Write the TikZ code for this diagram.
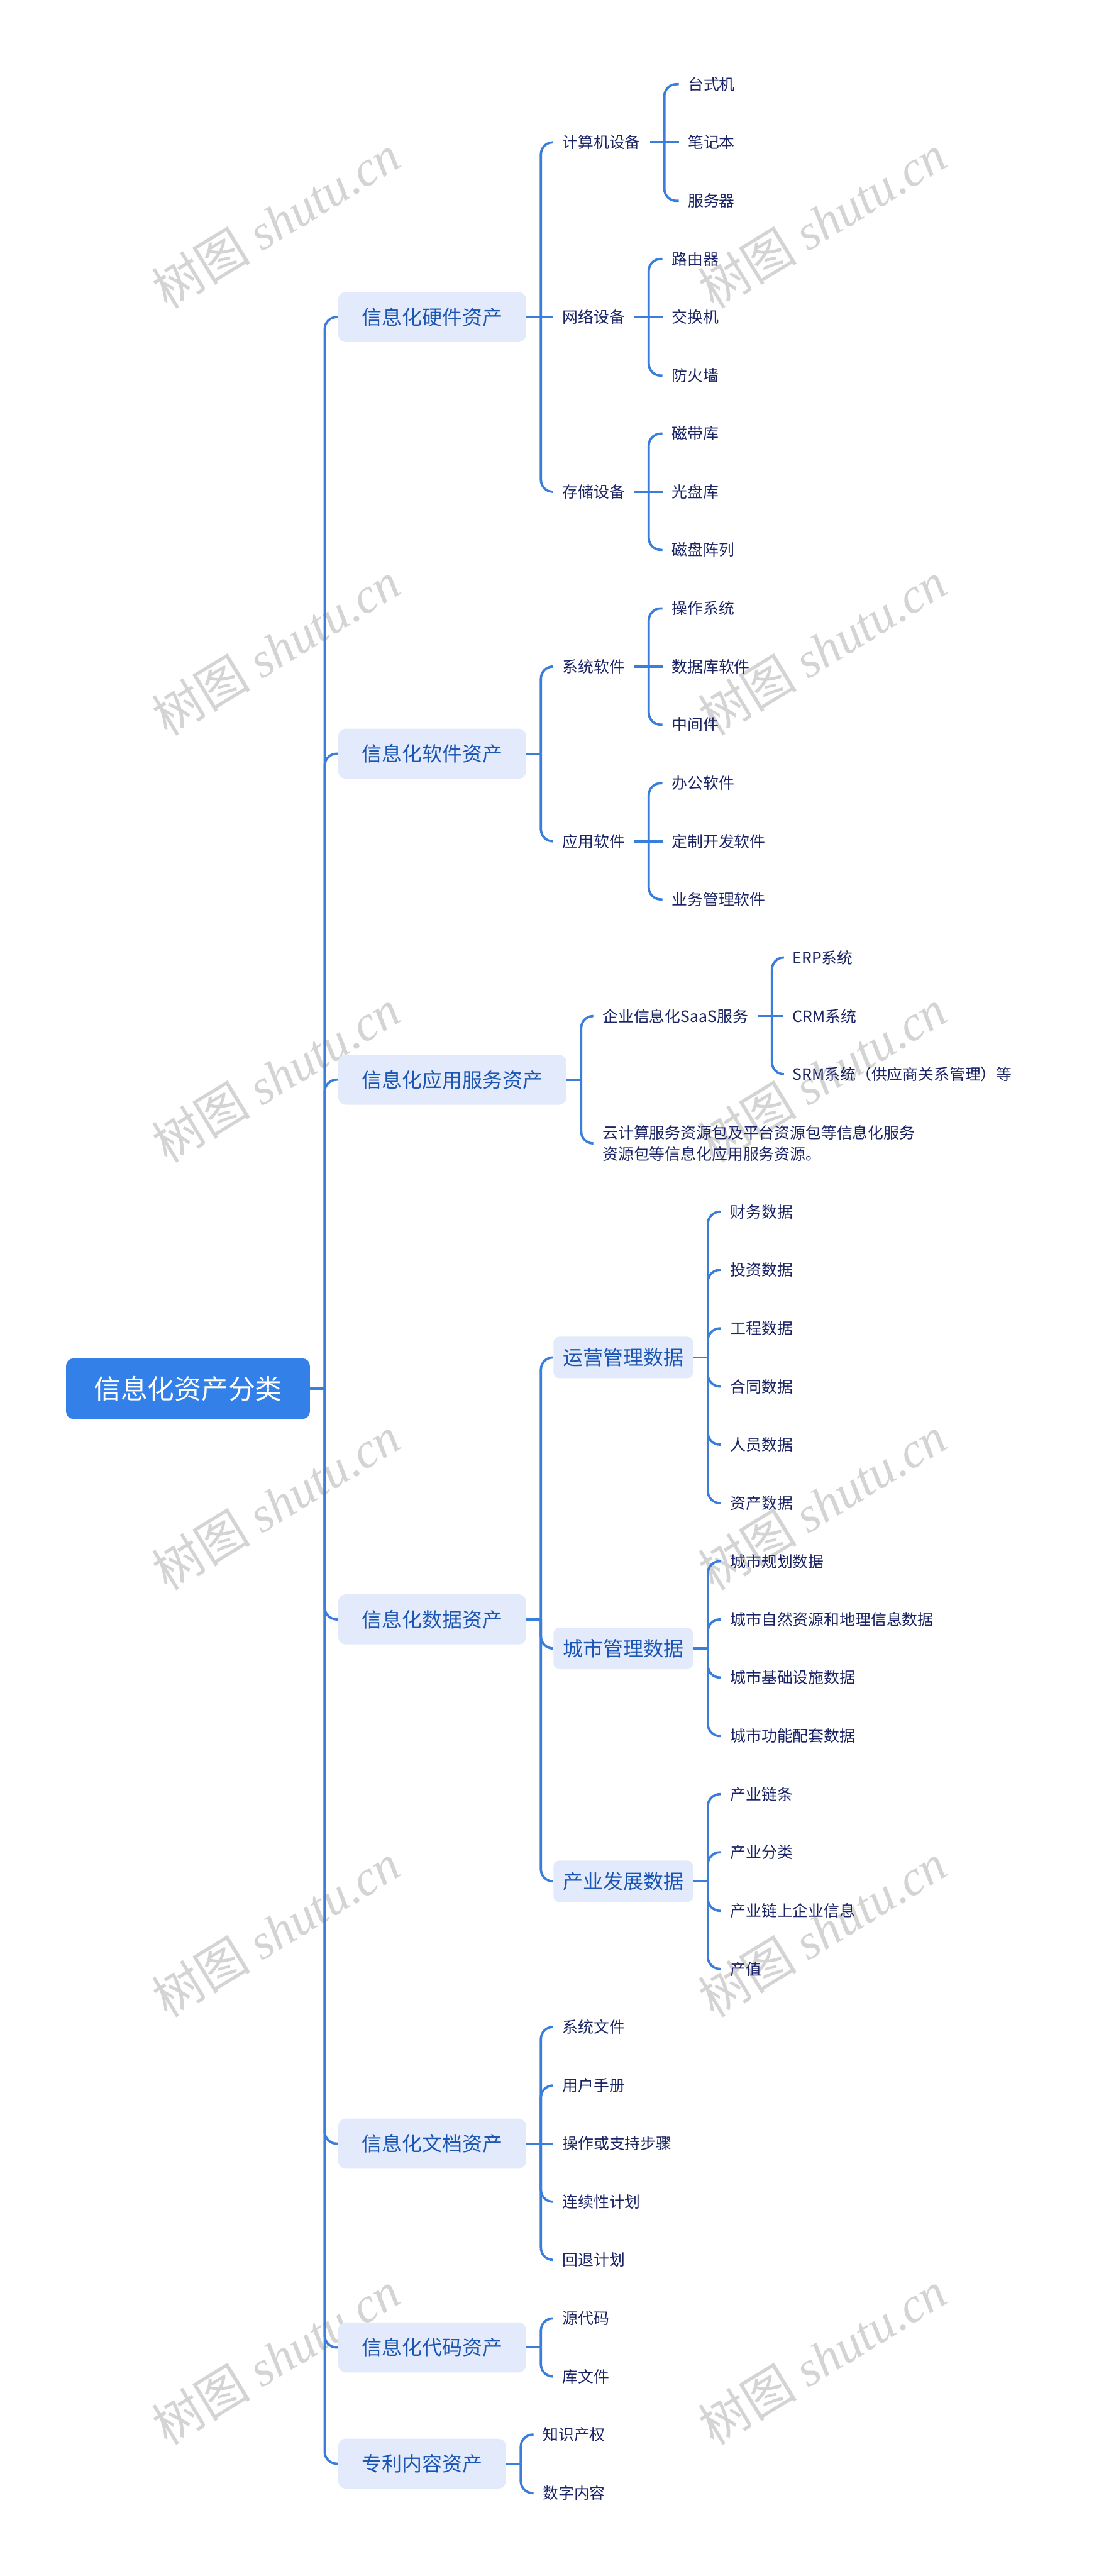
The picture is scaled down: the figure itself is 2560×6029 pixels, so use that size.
\documentclass[tikz,border=0pt]{standalone}
\usepackage{fontspec}
\setmainfont{Noto Sans CJK SC}
\newfontfamily\wmlatin{Liberation Serif}
\usetikzlibrary{calc}
\definecolor{lineblue}{HTML}{3A7EDB}
\definecolor{rootblue}{HTML}{3280E8}
\definecolor{boxfill}{HTML}{E2EAFB}
\definecolor{boxtext}{HTML}{1B56B4}
\definecolor{leaftext}{HTML}{1B2466}
\definecolor{wmgray}{HTML}{D4D4D4}
\tikzset{
  conn/.style={draw=lineblue, line width=1.56pt},
  rc/.style={rounded corners=0.28cm},
  rootbox/.style={fill=rootblue, rounded corners=5pt, text=white, font=\fontsize{17.9pt}{20pt}\selectfont, minimum height=1.42cm, inner xsep=0.65cm, inner ysep=0pt, anchor=west},
  lonebox/.style={fill=boxfill, rounded corners=5pt, text=boxtext, font=\fontsize{13.4pt}{16pt}\selectfont, minimum height=1.17cm, inner xsep=0.55cm, inner ysep=0pt, anchor=west},
  ltwobox/.style={fill=boxfill, rounded corners=4pt, text=boxtext, font=\fontsize{13.4pt}{16pt}\selectfont, minimum height=0.97cm, inner xsep=0.22cm, inner ysep=0pt, anchor=west},
  leaf/.style={text=leaftext, font=\fontsize{10.4pt}{14.2pt}\selectfont, inner xsep=0.21cm, inner ysep=0.1cm, anchor=west},
  wm/.style={text=wmgray, rotate=31.4, font=\fontsize{33pt}{36pt}\selectfont, inner sep=0pt}
}
\begin{document}
\begin{tikzpicture}[x=0.01cm, y=-0.01cm]
\useasboundingbox (0,0) rectangle (2560,6029);
\fill[white] (0,0) rectangle (2560,6029);

% watermarks
\foreach \wy [count=\i] in {518,1518,2518,3518,4518,5518}{
  \node[wm] (wl\i) at (646,\wy) {树图 {\wmlatin\itshape shutu.cn}};
  \node[wm] (wr\i) at (1925,\wy) {树图 {\wmlatin\itshape shutu.cn}};
}

% root
\node[rootbox] (root) at (154,3250) {信息化资产分类};

% level 1
\node[lonebox] (h) at (791,742) {信息化硬件资产};
\node[lonebox] (s) at (791,1764) {信息化软件资产};
\node[lonebox] (a) at (791,2527) {信息化应用服务资产};
\node[lonebox] (d) at (791,3790) {信息化数据资产};
\node[lonebox] (o) at (791,5017) {信息化文档资产};
\node[lonebox] (c) at (791,5494) {信息化代码资产};
\node[lonebox] (p) at (791,5766) {专利内容资产};

% hardware
\node[leaf] (h1) at (1295,333) {计算机设备};
\node[leaf] (h11) at (1589,197) {台式机};
\node[leaf] (h12) at (1589,333) {笔记本};
\node[leaf] (h13) at (1589,470) {服务器};
\node[leaf] (h2) at (1295,742) {网络设备};
\node[leaf] (h21) at (1551,606) {路由器};
\node[leaf] (h22) at (1551,742) {交换机};
\node[leaf] (h23) at (1551,879) {防火墙};
\node[leaf] (h3) at (1295,1151) {存储设备};
\node[leaf] (h31) at (1551,1015) {磁带库};
\node[leaf] (h32) at (1551,1151) {光盘库};
\node[leaf] (h33) at (1551,1287) {磁盘阵列};

% software
\node[leaf] (s1) at (1295,1560) {系统软件};
\node[leaf] (s11) at (1551,1424) {操作系统};
\node[leaf] (s12) at (1551,1560) {数据库软件};
\node[leaf] (s13) at (1551,1696) {中间件};
\node[leaf] (s2) at (1295,1969) {应用软件};
\node[leaf] (s21) at (1551,1833) {办公软件};
\node[leaf] (s22) at (1551,1969) {定制开发软件};
\node[leaf] (s23) at (1551,2105) {业务管理软件};

% application services
\node[leaf] (a1) at (1389,2378) {企业信息化SaaS服务};
\node[leaf] (a11) at (1834,2241) {ERP系统};
\node[leaf] (a12) at (1834,2378) {CRM系统};
\node[leaf] (a13) at (1834,2514) {SRM系统（供应商关系管理）等};
\node[leaf, align=left] (a2) at (1389,2676) {云计算服务资源包及平台资源包等信息化服务\\资源包等信息化应用服务资源。};

% data
\node[ltwobox] (d1) at (1295,3177) {运营管理数据};
\node[leaf] (d11) at (1688,2836) {财务数据};
\node[leaf] (d12) at (1688,2972) {投资数据};
\node[leaf] (d13) at (1688,3109) {工程数据};
\node[leaf] (d14) at (1688,3245) {合同数据};
\node[leaf] (d15) at (1688,3381) {人员数据};
\node[leaf] (d16) at (1688,3518) {资产数据};
\node[ltwobox] (d2) at (1295,3858) {城市管理数据};
\node[leaf] (d21) at (1688,3654) {城市规划数据};
\node[leaf] (d22) at (1688,3790) {城市自然资源和地理信息数据};
\node[leaf] (d23) at (1688,3926) {城市基础设施数据};
\node[leaf] (d24) at (1688,4063) {城市功能配套数据};
\node[ltwobox] (d3) at (1295,4403) {产业发展数据};
\node[leaf] (d31) at (1688,4199) {产业链条};
\node[leaf] (d32) at (1688,4335) {产业分类};
\node[leaf] (d33) at (1688,4472) {产业链上企业信息};
\node[leaf] (d34) at (1688,4608) {产值};

% documents
\node[leaf] (o1) at (1295,4744) {系统文件};
\node[leaf] (o2) at (1295,4881) {用户手册};
\node[leaf] (o3) at (1295,5017) {操作或支持步骤};
\node[leaf] (o4) at (1295,5153) {连续性计划};
\node[leaf] (o5) at (1295,5289) {回退计划};

% code
\node[leaf] (c1) at (1295,5426) {源代码};
\node[leaf] (c2) at (1295,5562) {库文件};

% patent
\node[leaf] (p1) at (1249,5698) {知识产权};
\node[leaf] (p2) at (1249,5835) {数字内容};

% connectors
\draw[conn] (root.east) -- ++(34,0) coordinate (jr);
\foreach \n in {h,s,a,d,o,c,p} \draw[conn,rc] (jr) |- (\n.west);

\draw[conn] (h.east) -- ++(34,0) coordinate (jh);
\draw[conn,rc] (jh) |- (h1.west);
\draw[conn] (jh) -- (h2.west);
\draw[conn,rc] (jh) |- (h3.west);
\draw[conn] (h1.east) -- ++(34,0) coordinate (jh1);
\draw[conn,rc] (jh1) |- (h11.west);
\draw[conn] (jh1) -- (h12.west);
\draw[conn,rc] (jh1) |- (h13.west);
\draw[conn] (h2.east) -- ++(34,0) coordinate (jh2);
\draw[conn,rc] (jh2) |- (h21.west);
\draw[conn] (jh2) -- (h22.west);
\draw[conn,rc] (jh2) |- (h23.west);
\draw[conn] (h3.east) -- ++(34,0) coordinate (jh3);
\draw[conn,rc] (jh3) |- (h31.west);
\draw[conn] (jh3) -- (h32.west);
\draw[conn,rc] (jh3) |- (h33.west);

\draw[conn] (s.east) -- ++(34,0) coordinate (js);
\draw[conn,rc] (js) |- (s1.west);
\draw[conn,rc] (js) |- (s2.west);
\draw[conn] (s1.east) -- ++(34,0) coordinate (js1);
\draw[conn,rc] (js1) |- (s11.west);
\draw[conn] (js1) -- (s12.west);
\draw[conn,rc] (js1) |- (s13.west);
\draw[conn] (s2.east) -- ++(34,0) coordinate (js2);
\draw[conn,rc] (js2) |- (s21.west);
\draw[conn] (js2) -- (s22.west);
\draw[conn,rc] (js2) |- (s23.west);

\draw[conn] (a.east) -- ++(34,0) coordinate (ja);
\draw[conn,rc] (ja) |- (a1.west);
\draw[conn,rc] (ja) |- (a2.west);
\draw[conn] (a1.east) -- ++(34,0) coordinate (ja1);
\draw[conn,rc] (ja1) |- (a11.west);
\draw[conn] (ja1) -- (a12.west);
\draw[conn,rc] (ja1) |- (a13.west);

\draw[conn] (d.east) -- ++(34,0) coordinate (jd);
\foreach \n in {d1,d2,d3} \draw[conn,rc] (jd) |- (\n.west);
\draw[conn] (d1.east) -- ++(34,0) coordinate (jd1);
\foreach \n in {d11,d12,d13,d14,d15,d16} \draw[conn,rc] (jd1) |- (\n.west);
\draw[conn] (d2.east) -- ++(34,0) coordinate (jd2);
\foreach \n in {d21,d22,d23,d24} \draw[conn,rc] (jd2) |- (\n.west);
\draw[conn] (d3.east) -- ++(34,0) coordinate (jd3);
\foreach \n in {d31,d32,d33,d34} \draw[conn,rc] (jd3) |- (\n.west);

\draw[conn] (o.east) -- ++(34,0) coordinate (jo);
\foreach \n in {o1,o2,o4,o5} \draw[conn,rc] (jo) |- (\n.west);
\draw[conn] (jo) -- (o3.west);

\draw[conn] (c.east) -- ++(34,0) coordinate (jc);
\foreach \n in {c1,c2} \draw[conn,rc] (jc) |- (\n.west);

\draw[conn] (p.east) -- ++(34,0) coordinate (jp);
\foreach \n in {p1,p2} \draw[conn,rc] (jp) |- (\n.west);
\end{tikzpicture}
\end{document}
